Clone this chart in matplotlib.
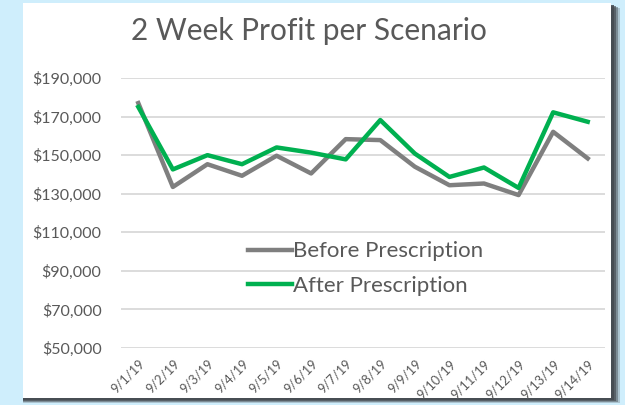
import matplotlib.pyplot as plt
from matplotlib.patches import Rectangle
from matplotlib.ticker import FuncFormatter

# data
dates = ['9/1/19', '9/2/19', '9/3/19', '9/4/19', '9/5/19', '9/6/19', '9/7/19',
         '9/8/19', '9/9/19', '9/10/19', '9/11/19', '9/12/19', '9/13/19', '9/14/19']
before = [177000, 133500, 145300, 139300, 149700, 140500, 158300,
          157800, 144000, 134400, 135300, 129300, 162100, 148300]
after = [175000, 142600, 150000, 145300, 154000, 151300, 147800,
         168200, 150800, 138700, 143600, 133000, 172200, 167300]
yticks = [50000, 70000, 90000, 110000, 130000, 150000, 170000, 190000]

W, H = 625, 405
fig = plt.figure(figsize=(W / 100, H / 100), dpi=100)
fig.patch.set_facecolor('#cfeefc')

# drop shadow and white chart panel
for i, a in enumerate([0.25, 0.45, 0.65, 0.85]):
    off = 9 - 2 * i
    fig.add_artist(Rectangle((23 / W, (H - 398 - off * 0.5) / H),
                             (588 + off) / W, 395 / H, transform=fig.transFigure,
                             facecolor='#454a50', alpha=a, edgecolor='none', zorder=0))
fig.add_artist(Rectangle((23 / W, (H - 398) / H), 588 / W, 395 / H,
                         transform=fig.transFigure, facecolor='white',
                         edgecolor='none', zorder=1))

ax = fig.add_axes([121 / W, (H - 348) / H, 484 / W, 270 / H])
ax.set_zorder(2)
ax.patch.set_alpha(0)

x = list(range(len(dates)))
ax.plot(x, before, color='#7f7f7f', lw=3.2, label='Before Prescription', zorder=3)
ax.plot(x, after, color='#00b050', lw=3.2, label='After Prescription', zorder=4)

ax.set_xlim(-0.5, len(dates) - 0.5)
ax.set_ylim(50000, 190000)
ax.set_yticks(yticks)
ax.yaxis.set_major_formatter(FuncFormatter(lambda v, p: f'${v:,.0f}'))
ax.set_xticks(x)
ax.set_xticklabels(dates, rotation=45, ha='right', rotation_mode='anchor')
ax.grid(axis='y', color='#d9d9d9', lw=1.3)
ax.set_axisbelow(True)
for s in ax.spines.values():
    s.set_visible(False)
ax.tick_params(axis='both', length=0)
ax.tick_params(axis='y', labelsize=11.5, labelcolor='#595959', pad=14)
ax.tick_params(axis='x', labelsize=9.3, labelcolor='#595959', pad=7)
for lab in ax.get_yticklabels() + ax.get_xticklabels():
    lab.set_family('Lato')

leg = ax.legend(loc='upper left', bbox_to_anchor=(0.262, 0.395), frameon=False,
                prop={'family': 'Lato', 'size': 16}, handlelength=2.0,
                handletextpad=0.05, labelspacing=0.65, borderaxespad=0,
                borderpad=0)
for t in leg.get_texts():
    t.set_color('#595959')

fig.text(309 / W, (H - 31) / H, '2 Week Profit per Scenario', ha='center', va='center',
         fontsize=21.5, color='#595959', family='Lato')

fig.savefig('out.png', dpi=100, facecolor=fig.get_facecolor())
